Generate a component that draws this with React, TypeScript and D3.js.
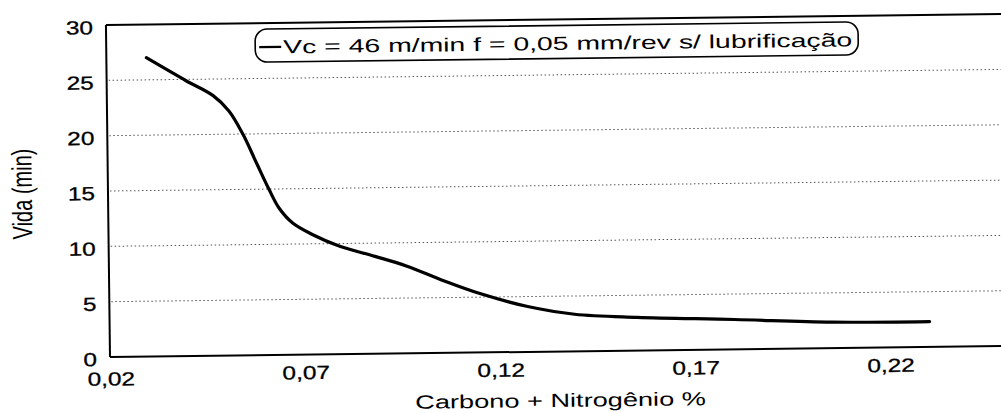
import React from 'react';
import * as d3 from 'd3';

// Data
const carbonoNitrogenio = [0.03, 0.04, 0.047, 0.051, 0.0545, 0.058, 0.061, 0.0635, 0.067, 0.072, 0.079, 0.088, 0.096, 0.105, 0.115, 0.127, 0.139, 0.155, 0.18, 0.205, 0.23];
const vidaMin = [27, 24.9, 23.5, 22.1, 20.0, 17.3, 15.0, 13.3, 11.9, 10.85, 9.75, 8.8, 7.9, 6.6, 5.3, 4.1, 3.35, 3.0, 2.7, 2.35, 2.3];
const xTicks = [0.02, 0.07, 0.12, 0.17, 0.22];
const yTicks = [0, 5, 10, 15, 20, 25, 30];
const gridValues = [5, 10, 15, 20, 25];
const legendLabel = 'Vc = 46 m/min f = 0,05 mm/rev s/ lubrificação';
const xTitle = 'Carbono + Nitrogênio %';
const yTitle = 'Vida (min)';

const FONT = '"Liberation Sans", Arial, Helvetica, sans-serif';
const SX = 1.28; // horizontal stretch of the scanned figure

export default function App() {
  const W = 1001;
  const H = 413;
  const left = 110;
  const top = 25;
  const bottom = 357;
  const right = 1012;

  const x = d3.scaleLinear().domain([0.02, 0.25]).range([111, 111 + (0.23 / 0.05) * 195]);
  const y = d3.scaleLinear().domain([0, 30]).range([bottom, top]);

  const pts: [number, number][] = carbonoNitrogenio.map((c, i) => [c, vidaMin[i]]);
  const line = d3
    .line<[number, number]>()
    .x((d) => x(d[0]))
    .y((d) => y(d[1]))
    .curve(d3.curveCatmullRom.alpha(0.5));

  const fmtX = (v: number) => v.toFixed(2).replace('.', ',');

  return (
    <svg
      width={W}
      height={H}
      viewBox={`0 0 ${W} ${H}`}
      style={{ position: 'absolute', left: 0, top: 0, background: '#fff' }}
      fontFamily={FONT}
    >
      <rect x={0} y={0} width={W} height={H} fill="#fff" />
      <g transform={`rotate(-0.7, ${left}, ${bottom})`}>
        {/* gridlines */}
        {gridValues.map((v) => (
          <line
            key={'g' + v}
            x1={left + 2}
            x2={right}
            y1={y(v)}
            y2={y(v)}
            stroke="#555"
            strokeWidth={1}
            strokeDasharray="1.5 2.5"
          />
        ))}
        {/* frame */}
        <line x1={left} x2={right} y1={top} y2={top} stroke="#000" strokeWidth={2} />
        <line x1={left} x2={left} y1={top} y2={bottom} stroke="#000" strokeWidth={2} />
        <line x1={left} x2={right} y1={bottom} y2={bottom} stroke="#000" strokeWidth={2} />

        {/* y tick labels */}
        {yTicks.map((v) => (
          <text
            key={'y' + v}
            transform={`translate(97, ${y(v) + 2.5}) scale(${SX},1)`}
            textAnchor="end"
            dominantBaseline="central"
            fontSize={19}
            fill="#000"
            stroke="#000"
            strokeWidth={0.3}
          >
            {v}
          </text>
        ))}

        {/* x tick labels */}
        {xTicks.map((v, i) => (
          <text
            key={'x' + v}
            transform={`translate(${x(v)}, ${i === 0 ? 379 : 375}) scale(${SX},1)`}
            textAnchor="middle"
            dominantBaseline="central"
            fontSize={19}
            fill="#000"
            stroke="#000"
            strokeWidth={0.3}
          >
            {fmtX(v)}
          </text>
        ))}

        {/* axis titles */}
        <text
          transform={`translate(560, 406) scale(1.43,1)`}
          textAnchor="middle"
          dominantBaseline="central"
          fontSize={19}
          fill="#000"
        >
          {xTitle}
        </text>
        <text
          transform={`translate(24, 193) scale(1.4,1) rotate(-90)`}
          textAnchor="middle"
          dominantBaseline="central"
          fontSize={20}
          fill="#000"
        >
          {yTitle}
        </text>

        {/* data line */}
        <path d={line(pts) || ''} fill="none" stroke="#000" strokeWidth={3.2} strokeLinejoin="round" strokeLinecap="round" />

        {/* legend */}
        <rect x={259} y={31} width={603} height={33} rx={12} ry={12} fill="#fff" stroke="#000" strokeWidth={1.6} />
        <line x1={263} x2={285} y1={49} y2={49} stroke="#000" strokeWidth={2.2} />
        <text
          x={287}
          y={49}
          dominantBaseline="central"
          fontSize={19}
          textLength={569}
          lengthAdjust="spacingAndGlyphs"
          fill="#000"
        >
          {legendLabel}
        </text>
      </g>
    </svg>
  );
}
